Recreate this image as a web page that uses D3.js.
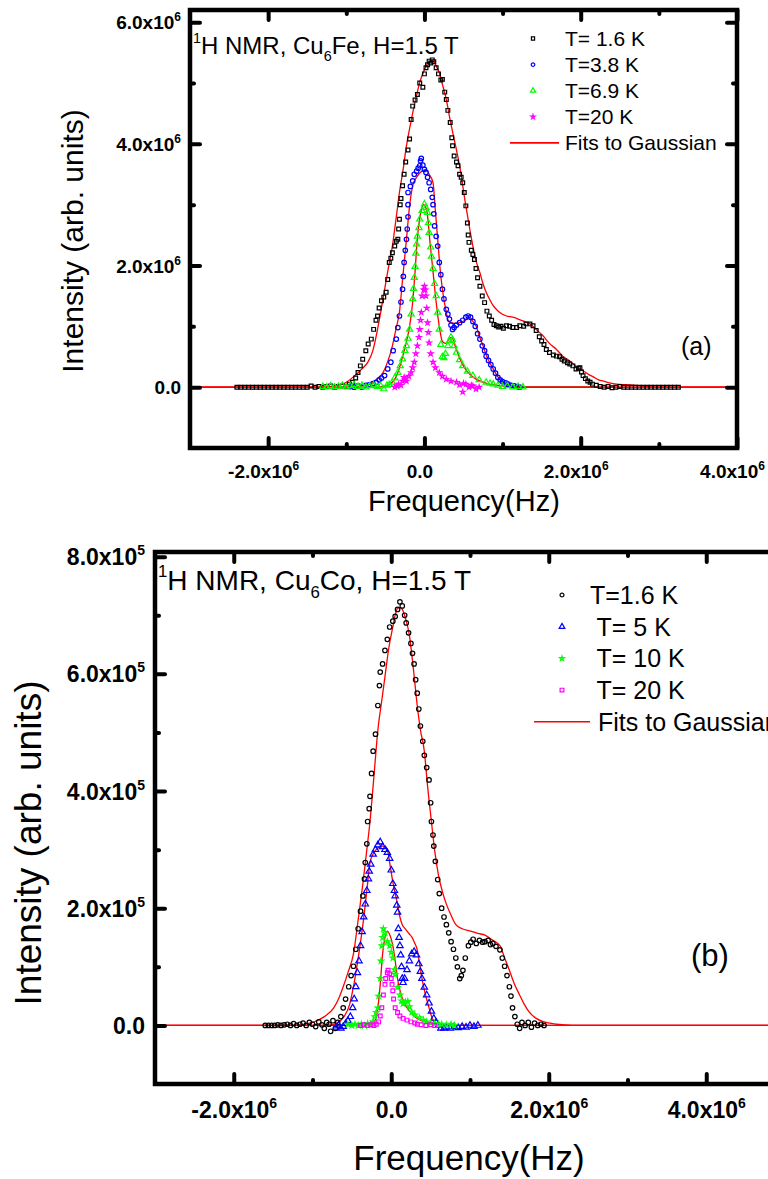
<!DOCTYPE html>
<html><head><meta charset="utf-8">
<script src="https://cdn.jsdelivr.net/npm/d3@7"></script>
<style>
body{margin:0;background:#fff}
svg{display:block}
text{font-family:"Liberation Sans", Arial, sans-serif;fill:#000}
</style></head><body>
<svg id="chart" width="768" height="1179"></svg>
<script>
// ================= Panel (a): Cu6Fe  (x in 1e6 Hz, y in 1e6 arb. units)
const aXTicks = [-2, 0, 2, 4];
const aXLabels = ["-2.0x10^6", "0.0", "2.0x10^6", "4.0x10^6"];
const aXMinor = [-1, 1, 3];
const aYTicks = [0, 2, 4, 6];
const aYLabels = ["0.0", "2.0x10^6", "4.0x10^6", "6.0x10^6"];
const aYMinor = [1, 3, 5];
const aNames = ["T= 1.6 K", "T=3.8 K", "T=6.9 K", "T=20 K"];

const aT16 = [[-2.4,0],[-2.35,0],[-2.3,0],[-2.25,0],[-2.2,0],[-2.15,0],[-2.1,0],[-2.05,0],[-2.0,0],[-1.95,0],[-1.9,0],[-1.85,0],[-1.8,0],[-1.75,0],[-1.7,0],[-1.65,0],[-1.6,0],[-1.55,0],[-1.5,0],[-1.45,0.02],[-1.4,0],[-1.35,0.01],[-1.3,0],[-1.25,0.01],[-1.2,0.02],[-1.15,0],[-1.1,0.01],[-1.05,0.02],[-1.0,0.01],[-0.96,0.05],[-0.92,0.08],[-0.88,0.15],[-0.85,0.24],[-0.82,0.35],[-0.79,0.46],[-0.75,0.6],[-0.72,0.71],[-0.68,0.79],[-0.65,0.95],[-0.62,1.1],[-0.6,1.17],[-0.58,1.3],[-0.55,1.42],[-0.52,1.48],[-0.49,1.56],[-0.47,1.77],[-0.45,2.05],[-0.43,2.12],[-0.41,2.21],[-0.38,2.32],[-0.36,2.4],[-0.34,2.43],[-0.33,2.6],[-0.32,2.76],[-0.31,3.0],[-0.3,3.1],[-0.28,3.31],[-0.26,3.5],[-0.24,3.7],[-0.21,3.9],[-0.19,4.08],[-0.17,4.4],[-0.15,4.62],[-0.12,4.72],[-0.09,4.81],[-0.06,5.0],[-0.02,4.93],[0.0,5.15],[0.02,5.25],[0.04,5.3],[0.06,5.36],[0.08,5.33],[0.1,5.38],[0.12,5.35],[0.15,5.25],[0.18,5.15],[0.21,5.05],[0.23,5.06],[0.26,4.85],[0.28,4.73],[0.3,4.55],[0.33,4.35],[0.35,4.1],[0.36,3.97],[0.38,3.8],[0.41,3.7],[0.43,3.64],[0.45,3.5],[0.47,3.45],[0.49,3.36],[0.51,3.2],[0.53,2.98],[0.55,2.7],[0.56,2.5],[0.57,2.38],[0.6,2.25],[0.62,2.18],[0.64,2.1],[0.66,1.95],[0.68,1.8],[0.71,1.66],[0.74,1.5],[0.77,1.39],[0.8,1.25],[0.83,1.17],[0.86,1.1],[0.89,1.03],[0.92,1.01],[0.95,0.99],[0.98,1.0],[1.01,0.97],[1.05,1.01],[1.09,1.0],[1.13,0.98],[1.18,0.98],[1.22,1.01],[1.27,1.0],[1.3,1.04],[1.35,1.04],[1.39,1.01],[1.43,0.93],[1.47,0.83],[1.5,0.76],[1.53,0.7],[1.56,0.62],[1.6,0.57],[1.65,0.53],[1.69,0.51],[1.73,0.5],[1.76,0.46],[1.79,0.43],[1.83,0.4],[1.86,0.38],[1.9,0.35],[1.94,0.3],[1.97,0.31],[1.99,0.32],[2.01,0.25],[2.03,0.19],[2.06,0.14],[2.09,0.1],[2.12,0.08],[2.15,0.05],[2.2,0.03],[2.25,0.01],[2.3,0],[2.35,0.01],[2.4,-0.01],[2.45,0],[2.5,0.01],[2.55,0],[2.6,0],[2.65,0],[2.7,0],[2.75,0],[2.8,0],[2.85,0],[2.9,0],[2.95,0],[3.0,0],[3.05,0],[3.1,0],[3.15,0],[3.2,0],[3.25,0]];

const aT38 = [[-0.95,0.01],[-0.9,0],[-0.85,0.02],[-0.8,0],[-0.75,0.03],[-0.71,0.04],[-0.66,0.06],[-0.62,0.08],[-0.58,0.12],[-0.55,0.15],[-0.51,0.19],[-0.47,0.3],[-0.43,0.41],[-0.4,0.6],[-0.36,0.79],[-0.34,0.98],[-0.32,1.17],[-0.3,1.4],[-0.28,1.61],[-0.27,1.82],[-0.26,2.05],[-0.245,2.25],[-0.23,2.43],[-0.22,2.6],[-0.21,2.8],[-0.21,3.0],[-0.21,3.2],[-0.18,3.3],[-0.15,3.39],[-0.13,3.5],[-0.1,3.55],[-0.08,3.6],[-0.06,3.64],[-0.05,3.72],[-0.04,3.76],[-0.02,3.65],[0.0,3.58],[0.02,3.53],[0.04,3.45],[0.06,3.36],[0.08,3.25],[0.1,3.12],[0.11,3.0],[0.12,2.85],[0.13,2.65],[0.15,2.48],[0.17,2.32],[0.19,2.05],[0.21,1.85],[0.23,1.61],[0.25,1.45],[0.28,1.28],[0.3,1.2],[0.32,1.12],[0.34,1.02],[0.36,0.95],[0.38,0.98],[0.41,1.02],[0.45,1.06],[0.49,1.1],[0.53,1.15],[0.56,1.17],[0.59,1.15],[0.62,1.08],[0.65,1.0],[0.68,0.88],[0.71,0.79],[0.74,0.68],[0.77,0.6],[0.79,0.51],[0.82,0.44],[0.85,0.37],[0.88,0.3],[0.91,0.23],[0.94,0.16],[0.97,0.12],[1.0,0.09],[1.04,0.07],[1.07,0.05],[1.11,0.03],[1.15,0.02],[1.19,0.01],[1.22,0]];

const aT69 = [[-1.3,0.01],[-1.25,0],[-1.2,0.02],[-1.15,0],[-1.1,0.01],[-1.05,0.03],[-1.0,0],[-0.95,0.02],[-0.9,0.04],[-0.85,0.01],[-0.8,0.03],[-0.75,0],[-0.7,0.02],[-0.65,0.03],[-0.6,0.01],[-0.56,0.02],[-0.52,-0.03],[-0.48,0.03],[-0.45,0.04],[-0.41,0.08],[-0.38,0.15],[-0.34,0.24],[-0.31,0.35],[-0.28,0.46],[-0.25,0.6],[-0.23,0.68],[-0.21,0.8],[-0.19,0.95],[-0.17,1.2],[-0.15,1.45],[-0.14,1.62],[-0.13,1.8],[-0.12,1.98],[-0.11,2.2],[-0.1,2.35],[-0.09,2.48],[-0.07,2.62],[-0.06,2.76],[-0.03,2.9],[0.0,3.01],[0.02,2.95],[0.04,2.87],[0.05,2.7],[0.06,2.54],[0.08,2.3],[0.09,2.15],[0.11,1.95],[0.13,1.7],[0.15,1.5],[0.17,1.23],[0.19,0.95],[0.21,0.7],[0.23,0.5],[0.25,0.48],[0.27,0.55],[0.3,0.68],[0.32,0.76],[0.34,0.82],[0.36,0.78],[0.38,0.68],[0.41,0.57],[0.45,0.45],[0.49,0.35],[0.55,0.26],[0.62,0.19],[0.7,0.12],[0.79,0.08],[0.84,0.06],[0.88,0.05],[0.94,0.03],[1.0,0.01],[1.06,0.02],[1.13,0],[1.2,0.01],[1.26,0]];
const aT69Tail = [[1.26,0],[2.2,0]];

const aT20 = [[-0.38,0],[-0.35,0.02],[-0.33,0.05],[-0.3,0.03],[-0.28,0.1],[-0.26,0.16],[-0.25,0.12],[-0.23,0.1],[-0.2,0.18],[-0.17,0.24],[-0.15,0.32],[-0.13,0.41],[-0.11,0.55],[-0.09,0.68],[-0.07,0.82],[-0.06,0.95],[-0.05,1.1],[-0.04,1.23],[-0.03,1.5],[-0.01,1.6],[0.0,1.66],[0.01,1.6],[0.02,1.5],[0.03,1.3],[0.04,1.06],[0.05,0.9],[0.06,0.73],[0.08,0.55],[0.11,0.41],[0.14,0.32],[0.19,0.24],[0.23,0.18],[0.28,0.13],[0.34,0.1],[0.41,0.08],[0.45,0.04],[0.49,-0.08],[0.5,0.06],[0.53,0.05],[0.57,0],[0.6,0.03],[0.62,0.02],[0.66,-0.03],[0.7,0]];

const aFit16 = [[-3,0],[-1.3,0],[-1.15,0.02],[-1.05,0.05],[-1.0,0.08],[-0.9,0.18],[-0.8,0.3],[-0.72,0.42],[-0.66,0.6],[-0.6,0.95],[-0.53,1.45],[-0.47,1.9],[-0.41,2.32],[-0.36,2.8],[-0.32,3.2],[-0.27,3.6],[-0.23,3.97],[-0.19,4.25],[-0.15,4.51],[-0.1,4.8],[-0.06,5.01],[0.0,5.22],[0.04,5.32],[0.08,5.36],[0.12,5.35],[0.16,5.25],[0.19,5.17],[0.23,4.98],[0.28,4.73],[0.32,4.45],[0.36,4.2],[0.45,3.64],[0.53,2.98],[0.58,2.6],[0.62,2.32],[0.66,2.08],[0.71,1.88],[0.75,1.7],[0.79,1.56],[0.84,1.43],[0.88,1.34],[0.92,1.28],[0.96,1.23],[1.05,1.17],[1.13,1.15],[1.2,1.12],[1.28,1.08],[1.35,1.04],[1.43,0.95],[1.52,0.84],[1.6,0.72],[1.69,0.62],[1.77,0.51],[1.86,0.43],[1.94,0.34],[2.03,0.27],[2.1,0.21],[2.16,0.17],[2.23,0.12],[2.29,0.1],[2.37,0.07],[2.46,0.05],[2.58,0.04],[2.71,0.03],[2.85,0.01],[3.0,0],[4,0]];
const aFit38 = [[-3,0],[-1,0],[-0.8,0.02],[-0.7,0.05],[-0.66,0.08],[-0.6,0.14],[-0.53,0.24],[-0.47,0.42],[-0.41,0.68],[-0.36,0.98],[-0.32,1.23],[-0.28,1.77],[-0.23,2.43],[-0.19,2.98],[-0.15,3.31],[-0.1,3.45],[-0.06,3.52],[-0.02,3.56],[0.02,3.58],[0.06,3.5],[0.11,3.36],[0.14,2.9],[0.17,2.43],[0.2,1.95],[0.23,1.61],[0.28,1.23],[0.31,1.08],[0.34,1.06],[0.4,1.05],[0.45,1.06],[0.52,1.1],[0.58,1.15],[0.62,1.08],[0.66,1.01],[0.7,0.85],[0.75,0.68],[0.8,0.5],[0.88,0.3],[0.94,0.17],[1.0,0.08],[1.1,0.03],[1.2,0.01],[1.3,0],[4,0]];
const aFit69 = [[-3,0],[-0.6,0],[-0.5,0.02],[-0.41,0.08],[-0.34,0.24],[-0.28,0.5],[-0.23,0.75],[-0.19,1.0],[-0.15,1.4],[-0.12,1.9],[-0.09,2.45],[-0.05,2.85],[-0.01,3.0],[0.03,2.9],[0.07,2.4],[0.11,1.9],[0.15,1.4],[0.19,1.0],[0.23,0.75],[0.27,0.72],[0.32,0.8],[0.35,0.82],[0.4,0.65],[0.47,0.42],[0.55,0.25],[0.65,0.14],[0.8,0.06],[1.0,0.02],[1.2,0],[4,0]];

// ================= Panel (b): Cu6Co  (x in 1e6 Hz, y in 1e5 arb. units)
const bXTicks = [-2, 0, 2, 4];
const bXLabels = ["-2.0x10^6", "0.0", "2.0x10^6", "4.0x10^6"];
const bXMinor = [-1, 1, 3];
const bYTicks = [0, 2, 4, 6, 8];
const bYLabels = ["0.0", "2.0x10^5", "4.0x10^5", "6.0x10^5", "8.0x10^5"];
const bYMinor = [1, 3, 5, 7];
const bNames = ["T=1.6 K", " T= 5 K", " T= 10 K", " T= 20 K"];

const bT16 = [[-1.6,0],[-1.56,0],[-1.52,0],[-1.48,0],[-1.44,0.01],[-1.4,0],[-1.36,0.01],[-1.32,0.02],[-1.28,0],[-1.24,0.03],[-1.2,0],[-1.16,0.02],[-1.12,0.04],[-1.08,0],[-1.04,0.05],[-1.0,0.02],[-0.96,-0.02],[-0.92,0.06],[-0.88,0.01],[-0.85,-0.05],[-0.82,0.05],[-0.79,0.02],[-0.77,-0.1],[-0.74,0.08],[-0.71,-0.05],[-0.68,0.05],[-0.64,0.15],[-0.61,0.3],[-0.58,0.45],[-0.54,0.66],[-0.51,0.85],[-0.48,1.01],[-0.45,1.3],[-0.42,1.65],[-0.39,1.95],[-0.36,2.21],[-0.34,2.5],[-0.33,2.78],[-0.31,3.1],[-0.3,3.48],[-0.28,3.7],[-0.27,3.91],[-0.25,4.3],[-0.23,4.68],[-0.2,4.97],[-0.17,5.46],[-0.15,5.8],[-0.14,6.03],[-0.11,6.17],[-0.08,6.4],[-0.05,6.59],[-0.02,6.8],[0.02,6.9],[0.05,6.98],[0.08,7.1],[0.11,7.23],[0.14,7.16],[0.17,7.0],[0.19,6.87],[0.22,6.7],[0.25,6.52],[0.27,6.35],[0.29,6.17],[0.31,5.9],[0.33,5.67],[0.35,5.4],[0.37,5.11],[0.4,4.85],[0.42,4.61],[0.45,4.4],[0.48,4.19],[0.5,3.8],[0.51,3.48],[0.53,3.25],[0.54,3.06],[0.56,2.8],[0.59,2.49],[0.61,2.25],[0.64,2.0],[0.67,1.85],[0.7,1.72],[0.73,1.58],[0.76,1.43],[0.79,1.3],[0.82,1.15],[0.84,1.0],[0.87,0.8],[0.89,0.85],[0.91,0.94],[0.94,1.15],[0.98,1.36],[1.01,1.42],[1.04,1.47],[1.08,1.4],[1.12,1.45],[1.16,1.42],[1.19,1.43],[1.23,1.45],[1.26,1.38],[1.29,1.4],[1.33,1.35],[1.38,1.29],[1.41,1.15],[1.44,1.01],[1.47,0.85],[1.5,0.66],[1.52,0.5],[1.54,0.3],[1.57,0.15],[1.6,0.02],[1.63,-0.05],[1.66,0.05],[1.7,0],[1.74,0.05],[1.78,-0.03],[1.82,0.04],[1.86,0],[1.9,0.02],[1.94,0]];

const bT5 = [[-0.7,-0.03],[-0.67,0],[-0.64,-0.05],[-0.61,-0.02],[-0.58,0.03],[-0.55,0.08],[-0.52,0.15],[-0.49,0.3],[-0.47,0.45],[-0.45,0.66],[-0.43,0.9],[-0.41,1.1],[-0.39,1.36],[-0.37,1.6],[-0.35,1.85],[-0.33,2.07],[-0.31,2.3],[-0.29,2.5],[-0.28,2.63],[-0.26,2.75],[-0.23,2.92],[-0.2,3.0],[-0.17,3.08],[-0.14,3.13],[-0.11,3.05],[-0.08,3.0],[-0.05,2.95],[-0.02,2.85],[0.0,2.65],[0.02,2.42],[0.04,2.3],[0.05,2.21],[0.07,2.05],[0.08,1.93],[0.09,1.65],[0.1,1.5],[0.11,1.36],[0.12,1.2],[0.13,1.0],[0.14,0.8],[0.15,0.73],[0.17,0.8],[0.2,0.95],[0.23,1.1],[0.26,1.22],[0.29,1.26],[0.32,1.2],[0.35,1.05],[0.37,0.92],[0.39,0.8],[0.42,0.65],[0.45,0.52],[0.48,0.38],[0.51,0.24],[0.54,0.12],[0.57,0.05],[0.6,0],[0.63,-0.05],[0.67,-0.05],[0.7,-0.03],[0.75,-0.05],[0.8,-0.02],[0.85,-0.04],[0.9,-0.02],[0.95,-0.03],[1.0,0],[1.05,-0.02],[1.1,0]];

const bT10 = [[-0.55,0.02],[-0.5,0],[-0.46,0.02],[-0.42,0],[-0.38,0.02],[-0.34,0],[-0.3,0.03],[-0.26,0.02],[-0.23,0.06],[-0.21,0.15],[-0.19,0.22],[-0.17,0.3],[-0.16,0.5],[-0.14,0.8],[-0.13,1.1],[-0.12,1.36],[-0.11,1.5],[-0.1,1.65],[-0.08,1.58],[-0.05,1.43],[-0.02,1.36],[0.0,1.25],[0.02,1.15],[0.04,0.95],[0.05,0.87],[0.08,0.65],[0.11,0.52],[0.13,0.42],[0.15,0.37],[0.18,0.4],[0.21,0.41],[0.23,0.32],[0.26,0.23],[0.3,0.18],[0.36,0.13],[0.41,0.09],[0.45,0.06],[0.5,0.04],[0.55,0.03],[0.6,0.02],[0.64,0.02],[0.7,0.01],[0.76,0.02],[0.8,0]];

const bT20 = [[-0.39,0],[-0.35,0.01],[-0.3,0],[-0.26,0.01],[-0.22,0],[-0.19,0.02],[-0.16,0.06],[-0.14,0.16],[-0.12,0.3],[-0.1,0.52],[-0.08,0.7],[-0.07,0.8],[-0.05,0.9],[-0.04,0.94],[-0.02,0.88],[0.0,0.8],[0.01,0.7],[0.02,0.59],[0.03,0.45],[0.05,0.3],[0.08,0.22],[0.11,0.16],[0.15,0.12],[0.2,0.09],[0.25,0.06],[0.3,0.04],[0.33,0.02],[0.38,0.01],[0.44,0],[0.5,0.01],[0.55,0]];

const bFit16 = [[-3,0],[-1.2,0],[-1.1,0.02],[-0.98,0.06],[-0.85,0.15],[-0.73,0.3],[-0.67,0.45],[-0.61,0.66],[-0.55,0.9],[-0.48,1.22],[-0.42,1.8],[-0.36,2.42],[-0.31,3.0],[-0.27,3.48],[-0.22,4.25],[-0.17,5.04],[-0.12,5.55],[-0.08,5.95],[-0.03,6.45],[0.02,6.8],[0.05,7.0],[0.08,7.12],[0.11,7.13],[0.14,7.1],[0.18,6.95],[0.23,6.66],[0.28,6.1],[0.33,5.46],[0.37,5.05],[0.42,4.68],[0.46,4.1],[0.51,3.48],[0.55,3.0],[0.6,2.56],[0.65,2.28],[0.7,2.07],[0.76,1.88],[0.82,1.72],[0.9,1.65],[1.01,1.61],[1.1,1.57],[1.19,1.54],[1.28,1.46],[1.38,1.36],[1.44,1.15],[1.5,0.94],[1.56,0.72],[1.63,0.52],[1.69,0.36],[1.75,0.23],[1.84,0.12],[1.94,0.06],[2.1,0.02],[2.3,0],[5,0]];
const bFit5 = [[-3,0],[-0.8,0],[-0.7,0.03],[-0.6,0.15],[-0.53,0.35],[-0.48,0.66],[-0.42,1.15],[-0.36,1.72],[-0.31,2.3],[-0.27,2.78],[-0.22,2.95],[-0.17,3.03],[-0.12,3.06],[-0.08,3.06],[-0.04,2.95],[-0.02,2.78],[0.02,2.45],[0.05,2.25],[0.08,2.07],[0.11,1.85],[0.14,1.72],[0.17,1.66],[0.2,1.61],[0.23,1.56],[0.26,1.51],[0.3,1.4],[0.33,1.29],[0.36,1.05],[0.39,0.8],[0.43,0.55],[0.48,0.3],[0.52,0.12],[0.57,0.02],[0.65,0],[5,0]];
const bFit10 = [[-3,0],[-0.35,0],[-0.25,0.03],[-0.2,0.1],[-0.17,0.3],[-0.14,0.7],[-0.11,1.22],[-0.08,1.5],[-0.05,1.61],[-0.02,1.55],[0.02,1.36],[0.05,1.1],[0.08,0.8],[0.12,0.55],[0.17,0.37],[0.21,0.28],[0.26,0.2],[0.35,0.1],[0.45,0.06],[0.6,0.02],[0.75,0],[5,0]];

// ================= drawing
const svg = d3.select("#chart");
const RED = "#ff0000";

function addSupText(sel, supSize, supDy) {
  sel.each(function() {
    const t = d3.select(this);
    const s = t.text();
    t.text(null);
    const parts = s.split("^");
    t.append("tspan").text(parts[0]);
    if (parts[1]) t.append("tspan").attr("dy", supDy).attr("font-size", supSize).text(parts[1]);
  });
}

function drawPanel(cfg) {
  const x = d3.scaleLinear().domain(cfg.xDomain).range([cfg.left, cfg.right]);
  const y = d3.scaleLinear().domain(cfg.yDomain).range([cfg.bottom, cfg.top]);
  const g = svg.append("g");
  const clipId = "clip" + cfg.id;
  g.append("clipPath").attr("id", clipId).append("rect")
    .attr("x", cfg.left).attr("y", cfg.top)
    .attr("width", cfg.right - cfg.left).attr("height", cfg.bottom - cfg.top);
  const plot = g.append("g").attr("clip-path", `url(#${clipId})`);
  const line = d3.line().x(d => x(d[0])).y(d => y(d[1])).curve(d3.curveMonotoneX);

  (cfg.extraLines || []).forEach(e => {
    plot.append("path").attr("d", line(e.data)).attr("fill", "none")
      .attr("stroke", e.color).attr("stroke-width", 1.6);
  });
  cfg.fits.forEach(f => {
    plot.append("path").attr("d", line(f)).attr("fill", "none")
      .attr("stroke", RED).attr("stroke-width", 1.3);
  });
  cfg.series.forEach(s => {
    const sym = d3.symbol().type(s.type).size(s.size);
    plot.append("g").selectAll("path").data(s.data).join("path")
      .attr("d", sym)
      .attr("transform", d => `translate(${x(d[0])},${y(d[1])})`)
      .attr("fill", "none").attr("stroke", s.color).attr("stroke-width", 1.2);
  });

  const tickStyle = sel => sel.selectAll(".tick line")
    .attr("stroke", "#000").attr("stroke-width", 4).attr("stroke-linecap", "round");
  const noDomain = sel => sel.select(".domain").remove();

  const xb = g.append("g").attr("transform", `translate(0,${cfg.bottom})`)
    .call(d3.axisBottom(x).tickValues(cfg.xTicks).tickSize(-cfg.major)
      .tickFormat((d, i) => cfg.xLabels[i]));
  xb.call(noDomain).call(tickStyle);
  xb.selectAll("text").attr("y", cfg.xLabelOffset).attr("dy", null).attr("dx", cfg.xLabelDx)
    .attr("font-size", cfg.tickFont).attr("font-weight", "bold").attr("font-family", "Liberation Sans, Arial, sans-serif");
  addSupText(xb.selectAll("text"), cfg.supFont, cfg.supDy);

  g.append("g").attr("transform", `translate(0,${cfg.bottom})`)
    .call(d3.axisBottom(x).tickValues(cfg.xMinor).tickSize(-cfg.minor).tickFormat(""))
    .call(noDomain).call(tickStyle);
  g.append("g").attr("transform", `translate(0,${cfg.top})`)
    .call(d3.axisTop(x).tickValues(cfg.xTicks).tickSize(-cfg.major).tickFormat(""))
    .call(noDomain).call(tickStyle);
  g.append("g").attr("transform", `translate(0,${cfg.top})`)
    .call(d3.axisTop(x).tickValues(cfg.xMinor).tickSize(-cfg.minor).tickFormat(""))
    .call(noDomain).call(tickStyle);

  const yl = g.append("g").attr("transform", `translate(${cfg.left},0)`)
    .call(d3.axisLeft(y).tickValues(cfg.yTicks).tickSize(-cfg.major)
      .tickFormat((d, i) => cfg.yLabels[i]));
  yl.call(noDomain).call(tickStyle);
  yl.selectAll("text").attr("x", -cfg.yLabelOffset).attr("dy", "0.35em")
    .attr("font-size", cfg.tickFont).attr("font-weight", "bold").attr("font-family", "Liberation Sans, Arial, sans-serif");
  addSupText(yl.selectAll("text"), cfg.supFont, cfg.supDy);

  g.append("g").attr("transform", `translate(${cfg.left},0)`)
    .call(d3.axisLeft(y).tickValues(cfg.yMinor).tickSize(-cfg.minor).tickFormat(""))
    .call(noDomain).call(tickStyle);
  g.append("g").attr("transform", `translate(${cfg.right},0)`)
    .call(d3.axisRight(y).tickValues(cfg.yTicks).tickSize(-cfg.major).tickFormat(""))
    .call(noDomain).call(tickStyle);
  g.append("g").attr("transform", `translate(${cfg.right},0)`)
    .call(d3.axisRight(y).tickValues(cfg.yMinor).tickSize(-cfg.minor).tickFormat(""))
    .call(noDomain).call(tickStyle);

  g.append("rect").attr("x", cfg.left).attr("y", cfg.top)
    .attr("width", cfg.right - cfg.left).attr("height", cfg.bottom - cfg.top)
    .attr("fill", "none").attr("stroke", "#000").attr("stroke-width", 4.5);

  g.append("text").attr("x", cfg.xTitle.x).attr("y", cfg.xTitle.y)
    .attr("text-anchor", "middle").attr("font-size", cfg.xTitle.size).text("Frequency(Hz)");
  g.append("text").attr("transform", `translate(${cfg.yTitle.x},${cfg.yTitle.y}) rotate(-90)`)
    .attr("text-anchor", "middle").attr("font-size", cfg.yTitle.size).text("Intensity (arb. units)");

  const tt = g.append("text").attr("x", cfg.title.x).attr("y", cfg.title.y).attr("font-size", cfg.title.size);
  tt.append("tspan").attr("font-size", cfg.title.size * 0.6).attr("dy", -cfg.title.size * 0.45).text("1");
  tt.append("tspan").attr("dy", cfg.title.size * 0.45).text("H NMR, Cu");
  tt.append("tspan").attr("font-size", cfg.title.size * 0.6).attr("dy", cfg.title.size * 0.3).text("6");
  tt.append("tspan").attr("dy", -cfg.title.size * 0.3).text(cfg.title.metal + ", H=1.5 T");

  g.append("text").attr("x", cfg.letter.x).attr("y", cfg.letter.y)
    .attr("font-size", cfg.letter.size).text(cfg.letter.text);

  const L = cfg.legend;
  cfg.series.forEach((s, i) => {
    const yy = L.y0 + i * L.dy;
    g.append("path").attr("d", d3.symbol().type(s.type).size(s.legendSize)())
      .attr("transform", `translate(${L.symX},${yy})`)
      .attr("fill", "none").attr("stroke", s.color).attr("stroke-width", 1.2);
    g.append("text").attr("x", L.textX).attr("y", yy).attr("dy", "0.36em")
      .attr("font-size", L.size).style("white-space", "pre").text(cfg.names[i]);
  });
  const yf = L.y0 + 4 * L.dy;
  g.append("line").attr("x1", L.lineX1).attr("x2", L.lineX2).attr("y1", yf).attr("y2", yf)
    .attr("stroke", RED).attr("stroke-width", 1.6);
  g.append("text").attr("x", L.fitTextX).attr("y", yf).attr("dy", "0.36em")
    .attr("font-size", L.size).text("Fits to Gaussian");
}

drawPanel({
  id: "a", left: 190, right: 737, top: 10, bottom: 448,
  xDomain: [-3, 4], yDomain: [-1, 6.2],
  xTicks: aXTicks, xLabels: aXLabels, xMinor: aXMinor,
  yTicks: aYTicks, yLabels: aYLabels, yMinor: aYMinor,
  major: 10, minor: 4, tickFont: 19, supFont: 12, supDy: -8,
  xLabelOffset: 30, xLabelDx: -5, yLabelOffset: 9,
  names: aNames,
  series: [
    {data: aT16, type: d3.symbolSquare, size: 14, legendSize: 10, color: "#000000"},
    {data: aT38, type: d3.symbolCircle, size: 16, legendSize: 10, color: "#0000ff"},
    {data: aT69, type: d3.symbolTriangle, size: 16, legendSize: 12, color: "#00ff00"},
    {data: aT20, type: d3.symbolStar, size: 7, legendSize: 6, color: "#ff00ff"}
  ],
  fits: [aFit16, aFit38, aFit69],
  extraLines: [{data: aT69Tail, color: "#3cb01e"}],
  xTitle: {x: 464, y: 511, size: 29},
  yTitle: {x: 83, y: 241, size: 30},
  title: {x: 193, y: 54, size: 24, metal: "Fe"},
  letter: {x: 681, y: 355, size: 25, text: "(a)"},
  legend: {symX: 533, textX: 565, y0: 38.5, dy: 26.1, size: 21, lineX1: 510, lineX2: 559, fitTextX: 565}
});

drawPanel({
  id: "b", left: 155, right: 785, top: 552, bottom: 1084,
  xDomain: [-3, 5], yDomain: [-1, 8.08],
  xTicks: bXTicks, xLabels: bXLabels, xMinor: bXMinor,
  yTicks: bYTicks, yLabels: bYLabels, yMinor: bYMinor,
  major: 10, minor: 4, tickFont: 23, supFont: 14, supDy: -10,
  xLabelOffset: 34, xLabelDx: 0, yLabelOffset: 10,
  names: bNames,
  series: [
    {data: bT16, type: d3.symbolCircle, size: 16, legendSize: 12, color: "#000000"},
    {data: bT5, type: d3.symbolTriangle, size: 18, legendSize: 14, color: "#0000ff"},
    {data: bT10, type: d3.symbolStar, size: 8, legendSize: 7, color: "#00ff00"},
    {data: bT20, type: d3.symbolSquare, size: 14, legendSize: 14, color: "#ff00ff"}
  ],
  fits: [bFit16, bFit5, bFit10],
  extraLines: [],
  xTitle: {x: 469, y: 1170, size: 35},
  yTitle: {x: 41, y: 843, size: 37},
  title: {x: 158, y: 590, size: 28, metal: "Co"},
  letter: {x: 691, y: 966, size: 31, text: "(b)"},
  legend: {symX: 562, textX: 590, y0: 595, dy: 31.7, size: 25, lineX1: 534, lineX2: 590, fitTextX: 598}
});
</script>
</body></html>
